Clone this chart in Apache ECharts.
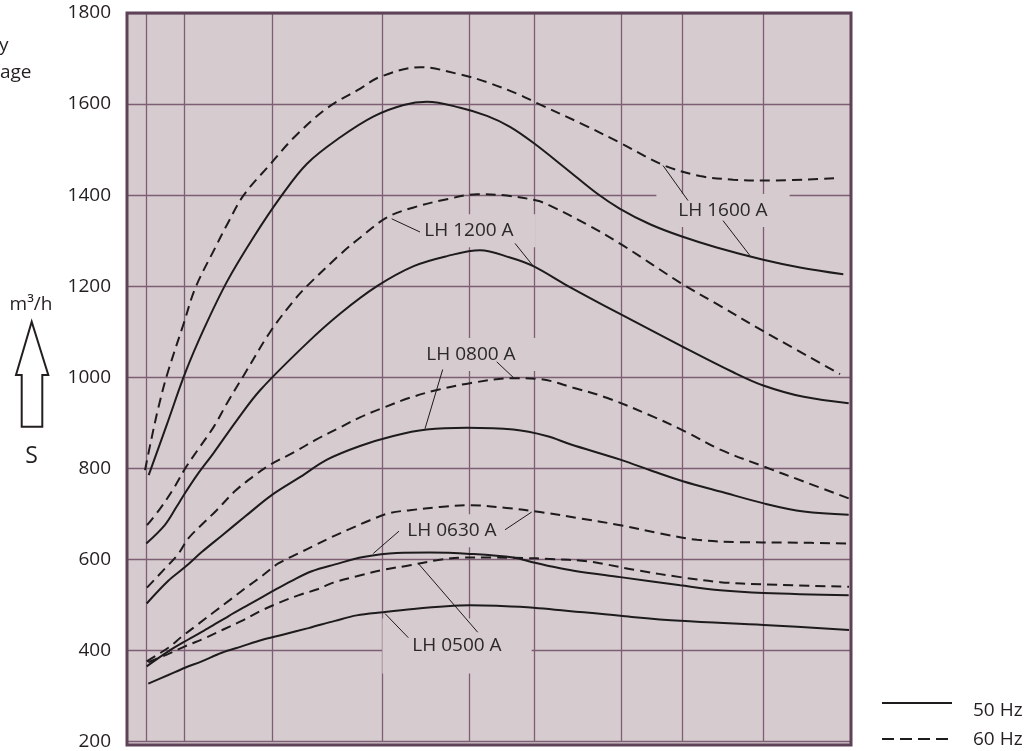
<!DOCTYPE html>
<html><head><meta charset="utf-8">
<script src="https://cdn.jsdelivr.net/npm/echarts@6/dist/echarts.min.js"></script>
<style>html,body{margin:0;padding:0;background:#fff}#c{width:1030px;height:751px}</style>
</head><body><div id="c"></div>
<script>
// ---------- data (x: position along the unlabeled horizontal axis, y: pumping speed m3/h) ----------
const yTicks = [200, 400, 600, 800, 1000, 1200, 1400, 1600, 1800];
const xGridLines = [19, 57, 145, 255, 342, 407, 494, 555, 636];

const LH1600_50HZ = [[21.7,785],[40,897],[58.3,1010],[76.7,1105],[100,1210],[126.7,1308],[153.3,1395],[180,1469],[213.3,1527],[246.7,1573],[276.7,1598],[300,1605],[333.3,1592],[360,1574],[383,1550],[406.3,1515],[439.7,1457],[469.7,1404],[493,1370],[523,1336],[555,1309],[589.7,1285],[636.3,1258],[673,1241],[716.3,1226]];
const LH1600_60HZ = [[18,796],[24,860],[31,930],[40,1005],[56.7,1118],[68.3,1196],[88.3,1285],[100,1335],[116.7,1400],[143.3,1468],[166.7,1526],[200,1591],[233.3,1634],[253.3,1660],[293.3,1681],[333.3,1665],[360,1648],[393,1620],[408,1604],[456.3,1555],[493,1515],[536.3,1466],[573,1442],[606.3,1434],[639.7,1432],[708,1437]];
const LH1200_50HZ = [[19.3,635],[38,676],[49.7,716],[56.7,741],[70,785],[86.7,834],[110,906],[133.3,972],[180,1075],[213.3,1140],[250,1200],[286.7,1244],[320,1266],[353,1279],[383,1263],[406.3,1244],[439.7,1202],[493,1139],[555,1068],[606.3,1011],[636.3,982],[676.7,957],[721.7,943]];
const LH1200_60HZ = [[20,675],[33.3,712],[46.7,756],[58.3,800],[70,838],[86.7,891],[100,943],[116.7,1004],[143.3,1100],[166.7,1168],[181.7,1204],[213.3,1270],[233.3,1307],[260,1351],[286.7,1373],[320,1391],[350,1402],[379.7,1399],[409.7,1388],[423,1377],[459.7,1336],[496.3,1289],[553,1208],[589.7,1161],[639.7,1097],[713,1007]];
const LH0800_50HZ = [[19.7,503],[41.3,553],[58,583],[74.7,616],[94.7,652],[118,694],[144.7,741],[173.3,781],[200,819],[233,849],[266.3,871],[299.7,885],[339.7,889],[386.3,885],[419.7,871],[443.3,853],[493.3,819],[526.7,793],[556.7,771],[593.3,749],[636.7,723],[676.7,705],[721.7,698]];
const LH0800_60HZ = [[20,538],[38,580],[51.3,612],[61.3,646],[78,683],[89.7,708],[108,750],[126.7,783],[143.3,808],[166.7,835],[190,864],[213.3,890],[233,912],[255,932],[283,955],[310,972],[343,987],[386.3,998],[413,996],[446.3,977],[479.7,955],[526.7,913],[560,879],[593.3,841],[636.7,804],[676.7,771],[721.7,734]];
const LH0630_50HZ = [[19.7,365],[41.3,398],[61.3,424],[81.3,449],[101.3,475],[121.3,500],[144.7,529],[164.7,553],[184.7,574],[208,589],[236.3,605],[269.7,614],[303,615],[343,612],[386.3,604],[406.7,593],[423,585],[446.7,575],[493.3,561],[553.3,543],[593.3,532],[636.7,526],[721.7,521]];
const LH0630_60HZ = [[19.7,376],[41.3,406],[54.7,430],[71.3,458],[88,486],[103,511],[119.7,539],[134.7,563],[151.3,591],[171.3,613],[188,631],[204.7,649],[223,667],[243,686],[263,702],[283,708],[313,715],[343,719],[379.7,713],[413,704],[453.3,690],[493.3,675],[533.3,657],[570,643],[610,638],[660,637],[721.7,635]];
const LH0500_50HZ = [[21.3,327],[41.3,346],[58,362],[74.7,376],[94.7,395],[114.7,409],[134.7,423],[154.7,434],[181.3,449],[208,465],[229.7,477],[256.3,484],[286.3,491],[319.7,497],[343,499],[369.7,498],[406.7,494],[493.3,476],[553.3,465],[636.7,456],[722,445]];
const LH0500_60HZ = [[21.3,374],[41,392],[58,409],[78,427],[96.3,446],[114.7,465],[133,486],[151.3,504],[171.3,521],[191.3,535],[206.3,549],[229.7,563],[256.3,577],[283,587],[309.7,598],[336.3,604],[363,604],[396.3,603],[423,601],[460,596],[476.7,590],[510,576],[553.3,561],[593.3,550],[636.7,545],[722,540]];

// curve labels: text, anchor (data units), leader lines [from, to] (data units)
const curveLabels = ['LH 1600 A', 'LH 1200 A', 'LH 0800 A', 'LH 0630 A', 'LH 0500 A'];
const labelAnchors = [[596,1366],[342,1322],[344,1050],[325,663],[330,410]];
const labelLeaders = [
  [[[561,1388],[536,1465]], [[596,1344],[623,1267]]],
  [[[293,1319],[264.7,1348]], [[388,1294],[406.3,1244]]],
  [[[315.7,1017],[298,887]], [[369.7,1034],[388,996]]],
  [[[272,662],[246.3,613]], [[378,665],[404.7,704]]],
  [[[281.3,428],[258,481]], [[350.7,440],[291.3,591]]]
];
const legendItems = ['50 Hz', '60 Hz'];

// ---------- chart ----------
const FONT = '"Open Sans", "Noto Sans", sans-serif';
const BG = '#d6cbce';
const GRIDC = '#7d5e75';
const INK = '#1d1b1c';
const GRID = {left: 127, top: 13, width: 724, height: 732};

const curves = [
  ['LH 1600 A 50 Hz', LH1600_50HZ, 'solid'], ['LH 1600 A 60 Hz', LH1600_60HZ, 'dashed'],
  ['LH 1200 A 50 Hz', LH1200_50HZ, 'solid'], ['LH 1200 A 60 Hz', LH1200_60HZ, 'dashed'],
  ['LH 0800 A 50 Hz', LH0800_50HZ, 'solid'], ['LH 0800 A 60 Hz', LH0800_60HZ, 'dashed'],
  ['LH 0630 A 50 Hz', LH0630_50HZ, 'solid'], ['LH 0630 A 60 Hz', LH0630_60HZ, 'dashed'],
  ['LH 0500 A 50 Hz', LH0500_50HZ, 'solid'], ['LH 0500 A 60 Hz', LH0500_60HZ, 'dashed']
];

const chart = echarts.init(document.getElementById('c'), null, {renderer: 'canvas'});
chart.setOption({
  animation: false,
  backgroundColor: '#ffffff',
  grid: Object.assign({show: false}, GRID),
  xAxis: {
    type: 'value', min: 0, max: 724,
    axisLine: {show: false}, axisLabel: {show: false},
    axisTick: {show: false, customValues: xGridLines},
    splitLine: {show: true, lineStyle: {color: GRIDC, width: 1.3}}
  },
  yAxis: {
    type: 'value', min: yTicks[0], max: yTicks[yTicks.length - 1], interval: 200,
    axisLine: {show: false}, axisTick: {show: false},
    axisLabel: {fontSize: 19, color: '#231f20', margin: 16, fontFamily: FONT, formatter: v => String(v)},
    splitLine: {show: true, lineStyle: {color: GRIDC, width: 1.3}}
  },
  series: curves.map(c => ({
    name: c[0], type: 'line', data: c[1], showSymbol: false, smooth: 0.35, z: 2,
    lineStyle: {color: INK, width: 2, type: c[2] === 'dashed' ? [10, 6] : 'solid'}
  }))
});

function px(p) { return chart.convertToPixel({gridIndex: 0}, p); }
const g = [];
// plot background (below grid lines) and border (on top)
g.push({type: 'rect', z: -5, silent: true, shape: {x: GRID.left, y: GRID.top, width: GRID.width, height: GRID.height},
  style: {fill: BG}});
g.push({type: 'rect', z: 10, silent: true, shape: {x: GRID.left, y: GRID.top, width: GRID.width, height: GRID.height},
  style: {fill: 'none', stroke: '#5e4258', lineWidth: 3}});
// curve labels + leader lines
curveLabels.forEach((t, i) => {
  const a = px(labelAnchors[i]);
  const pad = i === 4 ? [18, 30] : [7, 22];
  g.push({type: 'text', z: 1, silent: true, x: a[0], y: a[1],
    style: {text: t, fontSize: 19, fontFamily: FONT, fill: '#2a2829', align: 'center', verticalAlign: 'middle',
      backgroundColor: BG, padding: pad}});
  labelLeaders[i].forEach(seg => {
    const p1 = px(seg[0]), p2 = px(seg[1]);
    g.push({type: 'line', z: 3, silent: true, shape: {x1: p1[0], y1: p1[1], x2: p2[0], y2: p2[1]},
      style: {stroke: INK, lineWidth: 1}});
  });
});
// legend
g.push({type: 'line', shape: {x1: 882, y1: 703, x2: 952, y2: 703}, style: {stroke: INK, lineWidth: 1.8}});
g.push({type: 'line', shape: {x1: 882, y1: 739, x2: 952, y2: 739}, style: {stroke: INK, lineWidth: 1.8, lineDash: [12, 6]}});
g.push({type: 'text', x: 973, y: 711, style: {text: legendItems[0], fontSize: 19, fontFamily: FONT, fill: '#231f20', verticalAlign: 'middle'}});
g.push({type: 'text', x: 973, y: 740, style: {text: legendItems[1], fontSize: 19, fontFamily: FONT, fill: '#231f20', verticalAlign: 'middle'}});
// left side annotations
g.push({type: 'text', x: -1, y: 46, style: {text: 'y', fontSize: 19, fontFamily: FONT, fill: '#231f20', verticalAlign: 'middle'}});
g.push({type: 'text', x: 0, y: 73, style: {text: 'age', fontSize: 19, fontFamily: FONT, fill: '#231f20', verticalAlign: 'middle'}});
g.push({type: 'text', x: 31, y: 305, style: {text: 'm³/h', fontSize: 19, fontFamily: FONT, fill: '#231f20', align: 'center', verticalAlign: 'middle'}});
g.push({type: 'polygon', shape: {points: [[21.7,426.7],[21.7,375],[16,375],[31.7,321.7],[48.3,375],[42.3,375],[42.3,426.7]]},
  style: {fill: 'none', stroke: '#231f20', lineWidth: 2}});
g.push({type: 'text', x: 31.5, y: 456, style: {text: 'S', fontSize: 23, fontFamily: FONT, fill: '#231f20', align: 'center', verticalAlign: 'middle'}});
chart.setOption({graphic: {elements: g}});
</script>
</body></html>
